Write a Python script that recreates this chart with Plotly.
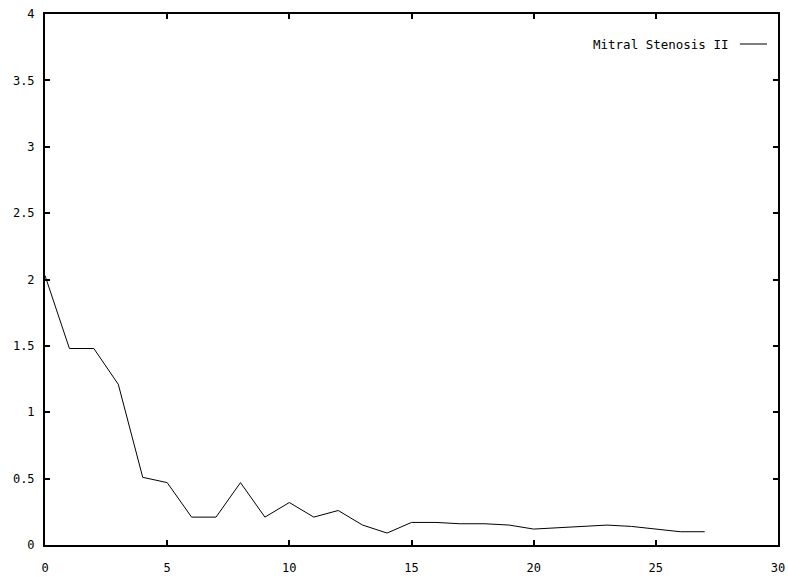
import plotly.graph_objects as go

# Mitral Stenosis II series
x_vals = list(range(28))
y_vals = [2.03, 1.48, 1.48, 1.21, 0.51, 0.47, 0.21, 0.21, 0.47, 0.21,
          0.32, 0.21, 0.26, 0.15, 0.09, 0.17, 0.17, 0.16, 0.16, 0.15,
          0.12, 0.13, 0.14, 0.15, 0.14, 0.12, 0.10, 0.10]
series_name = "Mitral Stenosis II"

x_ticks = [0, 5, 10, 15, 20, 25, 30]
y_ticks = [0, 0.5, 1, 1.5, 2, 2.5, 3, 3.5, 4]
y_labels = ["0", "0.5", "1", "1.5", "2", "2.5", "3", "3.5", "4"]

font = dict(family="DejaVu Sans Mono", size=12, color="black")

fig = go.Figure()
fig.add_trace(go.Scatter(x=x_vals, y=y_vals, mode="lines", name=series_name,
                         line=dict(color="black", width=1), showlegend=False))

axis_common = dict(showgrid=False, zeroline=False, showline=True, linecolor="black",
                   linewidth=2, mirror="ticks", ticks="inside", ticklen=5,
                   tickwidth=2, tickcolor="black", tickfont=font, automargin=False)
fig.update_xaxes(range=[0, 30], tickvals=x_ticks, ticklabelstandoff=11, **axis_common)
fig.update_yaxes(range=[0, 4], tickvals=y_ticks, ticktext=y_labels,
                 ticklabelstandoff=6, **axis_common)

# legend drawn gnuplot-style: text then line sample
fig.add_annotation(x=0.9345, y=0.9435, xref="paper", yref="paper", text=series_name,
                   showarrow=False, xanchor="right", yanchor="middle",
                   font=dict(family="DejaVu Sans Mono", size=12.5, color="black"))
fig.add_shape(type="line", xref="paper", yref="paper", x0=0.948, x1=0.985,
              y0=0.9435, y1=0.9435, line=dict(color="black", width=1))

fig.update_layout(width=788, height=577, template="none",
                  plot_bgcolor="white", paper_bgcolor="white",
                  margin=dict(l=45, r=10, t=14, b=32), font=font)
# drop the default page margin so the figure sits at the window's corner
fig.write_html("out.html", config={"displayModeBar": False},
               post_script="document.body.style.margin='0';")
